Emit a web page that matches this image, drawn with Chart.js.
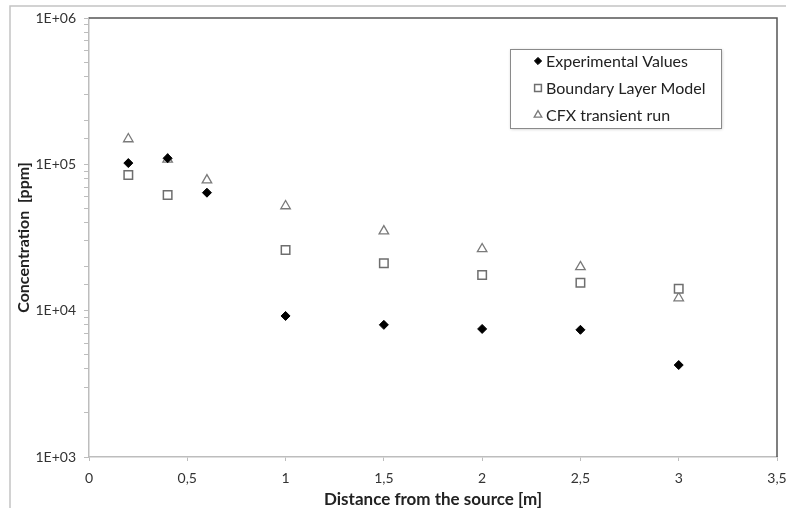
<!DOCTYPE html>
<html>
<head>
<meta charset="utf-8">
<script src="https://cdn.jsdelivr.net/npm/chart.js@4/dist/chart.umd.min.js"></script>
<style>
  html, body { margin: 0; padding: 0; background: #fff; }
  #chart { display: block; }
</style>
</head>
<body>
<canvas id="chart" width="786" height="508"></canvas>
<script>
// distance from the source [m]
const distances = [0.2, 0.4, 0.6, 1, 1.5, 2, 2.5, 3];
// concentrations [ppm]
const experimental = [102000, 110000, 64000, 9200, 8000, 7500, 7400, 4250];
const boundaryLayer = [84500, 61700, null, 26000, 21100, 17500, 15500, 14100];
const cfxTransient = [149000, 108000, 78000, 51900, 35000, 26400, 19900, 12200];

const seriesNames = ['Experimental Values', 'Boundary Layer Model', 'CFX transient run'];
const xTicks = [0, 0.5, 1, 1.5, 2, 2.5, 3, 3.5];
const yMajorTicks = [1e3, 1e4, 1e5, 1e6];

const FONT = 'Lato, "Open Sans", sans-serif';

const toPoints = values => distances
    .map((d, i) => ({ x: d, y: values[i] }))
    .filter(p => p.y !== null);

// white page, outer chart frame, plot border on top/right, and the legend box
const framePlugin = {
    id: 'frame',
    beforeDraw(chart) {
        const ctx = chart.ctx;
        ctx.save();
        ctx.fillStyle = '#fff';
        ctx.fillRect(0, 0, chart.width, chart.height);
        ctx.strokeStyle = '#c4c4c4';
        ctx.lineWidth = 1.5;
        ctx.beginPath();
        ctx.moveTo(10, chart.height);
        ctx.lineTo(10, 6);
        ctx.lineTo(chart.width, 6);
        ctx.stroke();
        ctx.restore();
    },
    afterDraw(chart) {
        const ctx = chart.ctx;
        const a = chart.chartArea;
        ctx.save();
        ctx.strokeStyle = '#555';
        ctx.lineWidth = 1.5;
        ctx.beginPath();
        ctx.moveTo(a.left, a.top);
        ctx.lineTo(a.right, a.top);
        ctx.lineTo(a.right, a.bottom);
        ctx.stroke();

        // legend
        const box = { x: 510, y: 49, w: 211, h: 79 };
        ctx.shadowColor = 'rgba(0,0,0,0.25)';
        ctx.shadowBlur = 3;
        ctx.shadowOffsetX = 1;
        ctx.shadowOffsetY = 1;
        ctx.fillStyle = '#fff';
        ctx.fillRect(box.x, box.y, box.w, box.h);
        ctx.shadowColor = 'transparent';
        ctx.strokeStyle = '#8a8a8a';
        ctx.lineWidth = 1;
        ctx.strokeRect(box.x + 0.5, box.y + 0.5, box.w, box.h);

        ctx.font = '16px ' + FONT;
        ctx.textBaseline = 'middle';
        ctx.textAlign = 'left';
        chart.data.datasets.forEach((ds, i) => {
            const y = 61 + i * 27;
            ctx.fillStyle = ds.pointBackgroundColor;
            ctx.strokeStyle = ds.pointBorderColor;
            ctx.lineWidth = ds.pointBorderWidth;
            Chart.helpers.drawPoint(ctx, {
                pointStyle: ds.pointStyle,
                radius: ds.pointRadius * 0.8,
                rotation: 0,
                borderWidth: ds.pointBorderWidth
            }, 538, y);
            ctx.fillStyle = '#222';
            ctx.fillText(ds.label, 546, y + 1);
        });
        ctx.restore();
    }
};

new Chart(document.getElementById('chart'), {
    type: 'scatter',
    data: {
        datasets: [
            {
                label: seriesNames[0],
                data: toPoints(experimental),
                pointStyle: 'rectRot',
                pointRadius: 4.5,
                pointBackgroundColor: '#000',
                pointBorderColor: '#000',
                pointBorderWidth: 1,
                order: 0
            },
            {
                label: seriesNames[1],
                data: toPoints(boundaryLayer),
                pointStyle: 'rect',
                pointRadius: 6,
                pointBackgroundColor: '#fff',
                pointBorderColor: '#6e6e6e',
                pointBorderWidth: 1.5,
                order: 1
            },
            {
                label: seriesNames[2],
                data: toPoints(cfxTransient),
                pointStyle: 'triangle',
                pointRadius: 5.5,
                pointBackgroundColor: '#fff',
                pointBorderColor: '#7a7a7a',
                pointBorderWidth: 1.3,
                order: 2
            }
        ]
    },
    options: {
        responsive: false,
        animation: false,
        devicePixelRatio: 1,
        layout: { padding: { left: 0, top: 18, right: 9, bottom: 0 } },
        plugins: {
            legend: { display: false },
            tooltip: { enabled: false }
        },
        scales: {
            x: {
                type: 'linear',
                min: 0,
                max: 3.5,
                afterBuildTicks: scale => {
                    scale.ticks = xTicks.map(v => ({ value: v }));
                },
                afterFit: scale => {
                    scale.height = 51;
                    // let the last label hang over the right edge like the original
                    scale.paddingLeft = 0;
                    scale.paddingRight = 0;
                },
                border: { color: '#bdbdbd', width: 1.5 },
                grid: { drawOnChartArea: false, drawTicks: true, tickLength: 4, color: '#bdbdbd' },
                ticks: {
                    color: '#333',
                    font: { family: FONT, size: 14 },
                    padding: 9,
                    maxRotation: 0,
                    callback: v => String(v).replace('.', ',')
                },
                title: {
                    display: true,
                    text: 'Distance from the source [m]',
                    color: '#222',
                    font: { family: FONT, size: 17, weight: 'bold', lineHeight: 1 },
                    padding: { top: 0, bottom: 0 }
                }
            },
            y: {
                type: 'logarithmic',
                min: 1000,
                max: 1000000,
                afterFit: scale => {
                    scale.width = 89;
                    scale.paddingTop = 0;
                    scale.paddingBottom = 0;
                },
                border: { color: '#bdbdbd', width: 1.5 },
                grid: { drawOnChartArea: false, drawTicks: true, tickLength: 5, color: '#bdbdbd' },
                ticks: {
                    autoSkip: false,
                    color: '#333',
                    font: { family: FONT, size: 14 },
                    padding: 8,
                    callback: v => yMajorTicks.includes(v) ? '1E+0' + Math.round(Math.log10(v)) : ''
                },
                title: {
                    display: true,
                    text: 'Concentration  [ppm]',
                    color: '#222',
                    font: { family: FONT, size: 16, weight: 'bold', lineHeight: 1 },
                    padding: { top: 16, bottom: 0 }
                }
            }
        }
    },
    plugins: [framePlugin]
});
</script>
</body>
</html>
